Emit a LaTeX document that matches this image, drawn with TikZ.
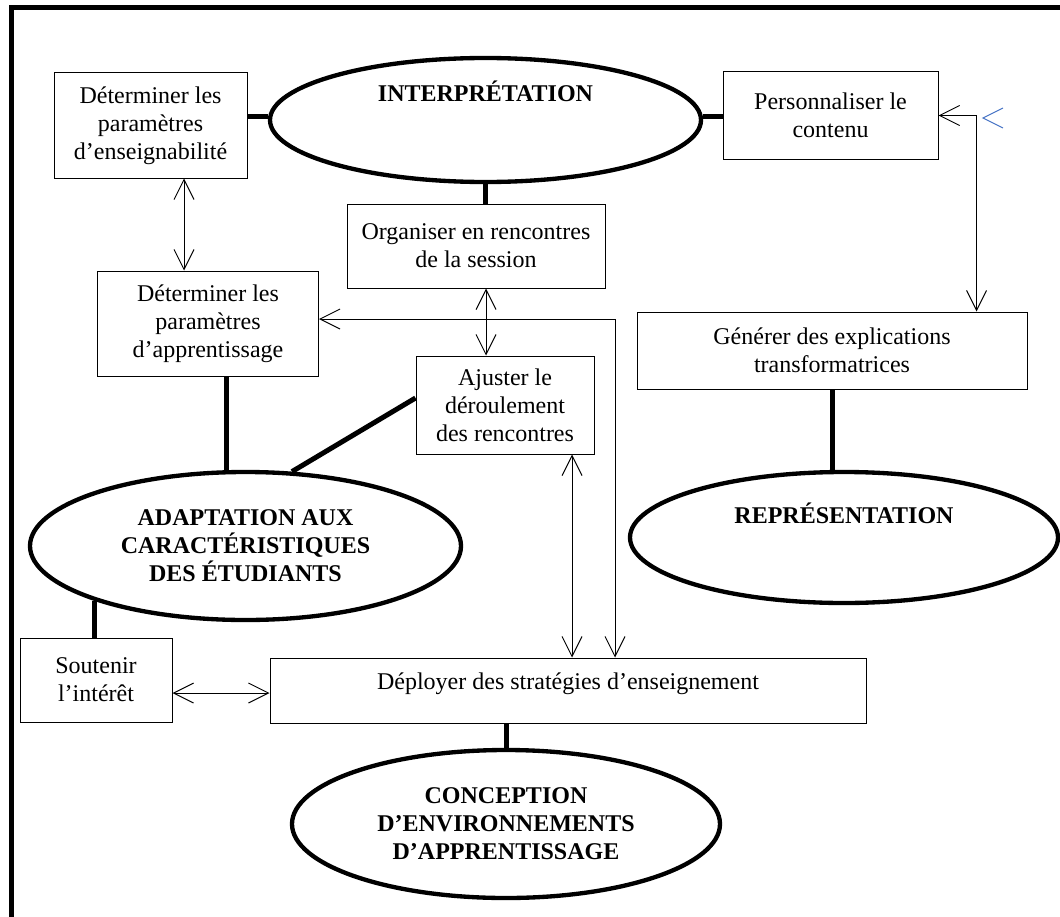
\documentclass[tikz,border=0pt]{standalone}
\usepackage{fontspec}
\setmainfont{Liberation Serif}
\usetikzlibrary{shapes.geometric,arrows.meta}
\tikzset{every picture/.style={line width=0.75pt}}
\definecolor{strayblue}{RGB}{68,114,196}
\tikzset{
  box/.style={draw, rectangle, align=center, inner sep=2pt, font=\fontsize{18}{21}\selectfont},
  pole/.style={draw, ellipse, line width=3.25pt, align=center, inner sep=0pt, font=\fontsize{18}{21}\selectfont\bfseries},
  link/.style={line width=3.75pt},
  dbl/.style={{Straight Barb[length=15pt,width=15pt]}-{Straight Barb[length=15pt,width=15pt]}}
}

\begin{document}
\begin{tikzpicture}[x=0.75pt,y=0.75pt,yscale=-1,xscale=1]
\useasboundingbox (0,0) rectangle (1060,917);

%Shape: Frame
\draw [line width=3.75pt] (11,917) -- (11,8) -- (1060,8) ;

%Shape: Ellipse
\node [pole, minimum width=323.25pt, minimum height=93pt, text height=16pt, text depth=44pt] (interp) at (485.5,120) {INTERPRÉTATION};
%Shape: Ellipse
\node [pole, minimum width=321pt, minimum height=98.25pt, text height=16pt, text depth=37pt] (repr) at (844,537.5) {REPRÉSENTATION};
%Shape: Ellipse
\node [pole, minimum width=323.25pt, minimum height=111pt] (adapt) at (245.5,546) {ADAPTATION AUX\\CARACTÉRISTIQUES\\DES ÉTUDIANTS};
%Shape: Ellipse
\node [pole, minimum width=321pt, minimum height=111pt] (concep) at (506,824) {CONCEPTION\\D’ENVIRONNEMENTS\\D’APPRENTISSAGE};

%Shape: Rectangle
\node [box, minimum width=144.75pt, minimum height=78.75pt] (enseign) at (150.5,125.5) {Déterminer les\\paramètres\\d’enseignabilité};
%Shape: Rectangle
\node [box, minimum width=161.25pt, minimum height=65.25pt] (perso) at (830.5,115.5) {Personnaliser le\\contenu};
%Shape: Rectangle
\node [box, minimum width=193.5pt, minimum height=63pt] (organ) at (476,246) {Organiser en rencontres\\de la session};
%Shape: Rectangle
\node [box, minimum width=165.75pt, minimum height=78.75pt] (apprent) at (208,323.5) {Déterminer les\\paramètres\\d’apprentissage};
%Shape: Rectangle
\node [box, minimum width=133.5pt, minimum height=73.5pt] (ajust) at (505,405) {Ajuster le\\déroulement\\des rencontres};
%Shape: Rectangle
\node [box, minimum width=292.5pt, minimum height=57.75pt] (generer) at (832,350.5) {Générer des explications\\transformatrices};
%Shape: Rectangle
\node [box, minimum width=447pt, minimum height=48.75pt, text height=12.5pt, text depth=14.5pt] (deploy) at (568,690.5) {Déployer des stratégies d’enseignement};
%Shape: Rectangle
\node [box, minimum width=114pt, minimum height=63pt] (soutenir) at (96,680) {Soutenir\\l’intérêt};

%Straight Lines
\draw [link] (enseign.east |- interp.179) -- (interp.179) ;
\draw [link] (interp.1) -- (interp.1 -| perso.west) ;
\draw [link] (interp.south) -- (interp.south |- organ.north) ;
\draw [link] (generer.south) -- (generer.south |- repr.north) ;
\path (apprent.south) ++(18,0) coordinate (aa) ;
\draw [link] (aa) -- (aa |- adapt.north) ;
\path (ajust.west) ++(0,-7) coordinate (aj) ;
\draw [link] (aj) -- (adapt.58) ;
\draw [link] (adapt.200) -- (adapt.200 |- soutenir.north) ;
\draw [link] (concep.north |- deploy.south) -- (concep.north) ;

%Straight Lines
\path (enseign.south) ++(33.5,0) coordinate (ea) ;
\draw [dbl] (ea) -- (ea |- apprent.north) ;
\path (organ.south) ++(10,0) coordinate (oa) ;
\draw [dbl] (oa) -- (oa |- ajust.north) ;
\path (ajust.south) ++(67,0) coordinate (ad) ;
\draw [dbl] (ad) -- (ad |- deploy.north) ;
\coordinate (turn) at (615,319) ;
\draw [dbl] (turn -| apprent.east) -- (turn) -- (turn |- deploy.north) ;
\path (perso.east) ++(38,0) coordinate (pg) ;
\draw [dbl] (perso.east) -- (pg) -- (pg |- generer.north) ;
\path (soutenir.east) ++(0,13) coordinate (sd) ;
\draw [dbl] (sd) -- (sd -| deploy.west) ;

%Shape: stray tip
\draw [strayblue] (1003,108) -- (983,118) -- (1003,128) ;

\end{tikzpicture}
\end{document}
